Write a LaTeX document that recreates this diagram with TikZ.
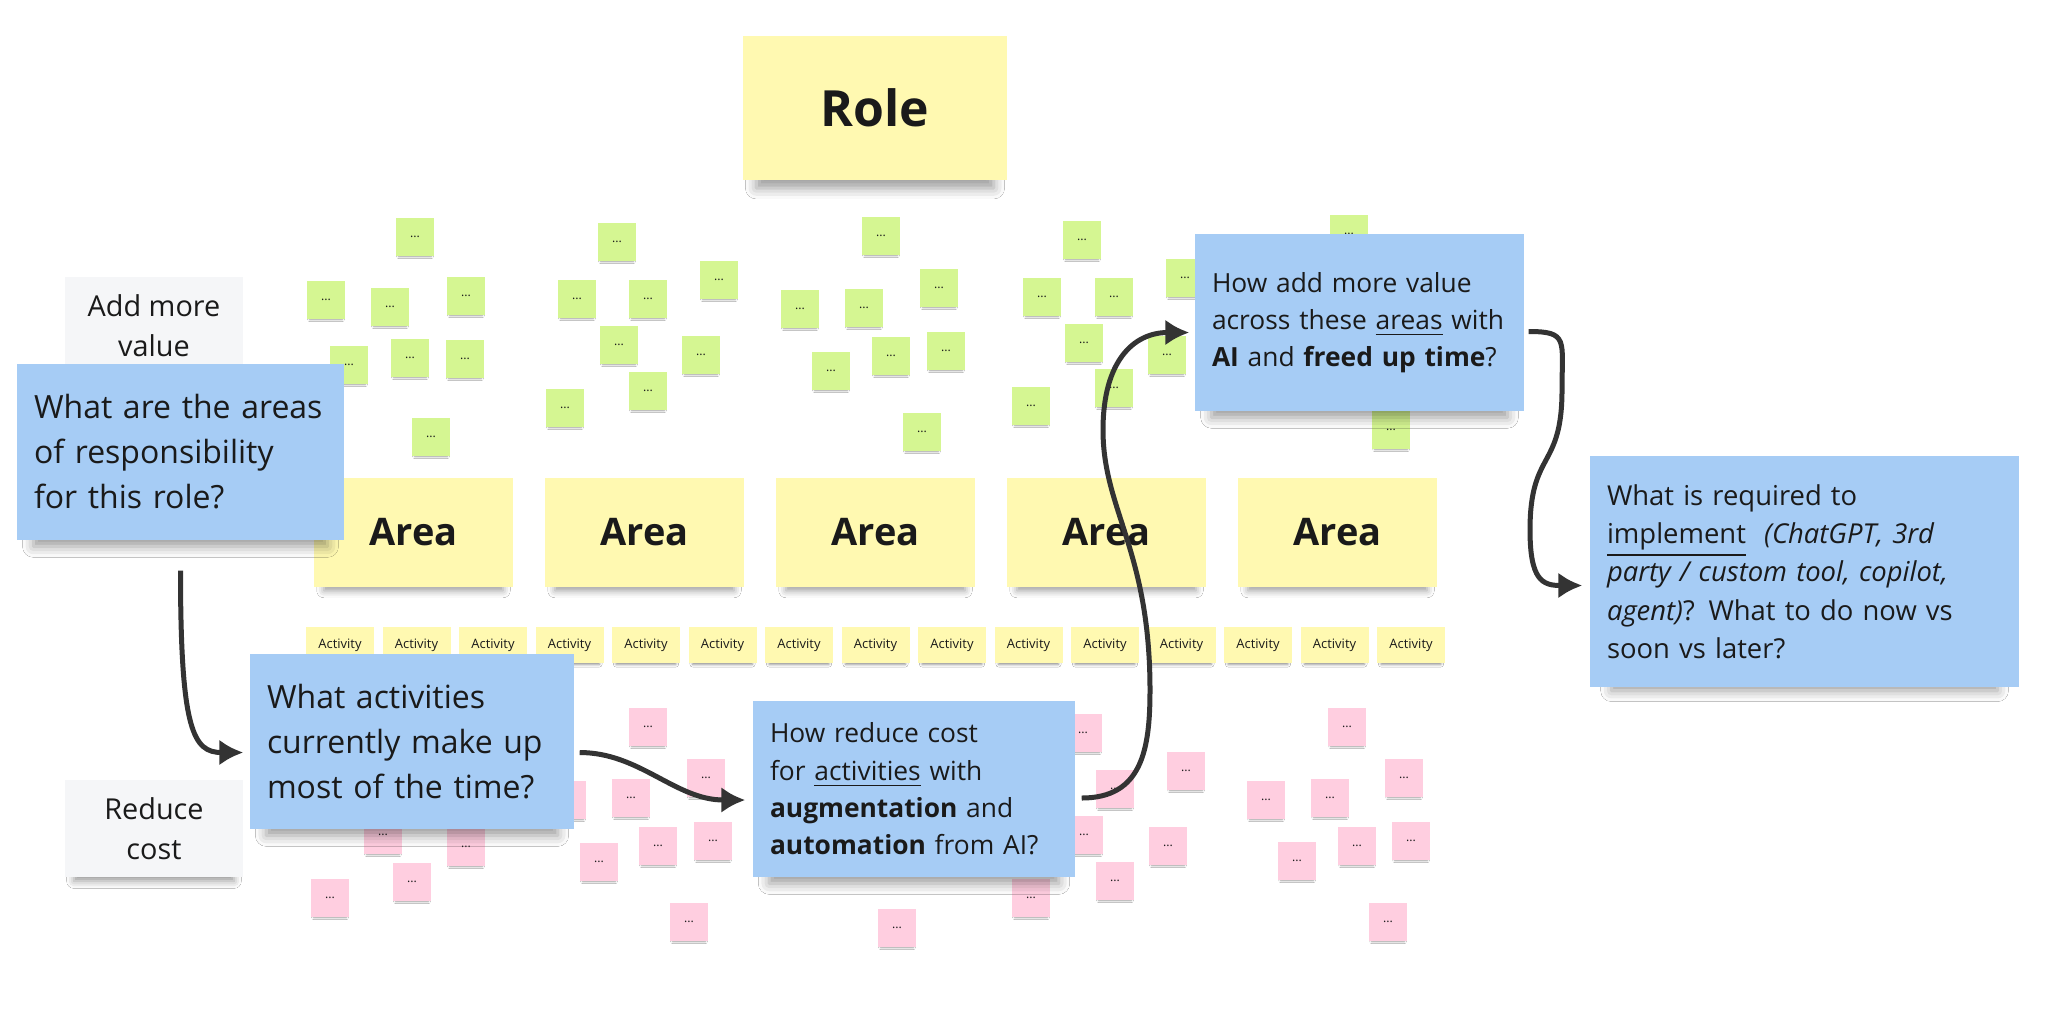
\documentclass[tikz,border=0pt]{standalone}
\usepackage{fontspec}
\setmainfont{Open Sans}
\usetikzlibrary{
    arrows.meta,
    shadows.blur
}
\definecolor{ink}{HTML}{1A1A1A}
\definecolor{notegreen}{HTML}{D5F692}
\definecolor{notepink}{HTML}{FFCEE0}
\definecolor{noteyellow}{HTML}{FFF9B1}
\definecolor{noteblue}{HTML}{A6CCF5}
\definecolor{notegrey}{HTML}{F5F6F8}
\definecolor{arrowgrey}{HTML}{333333}
\tikzset {
    sticky/.style = {rectangle, inner sep = 0pt, text = ink},
    small shadow/.style = {blur shadow = {shadow xshift = 0mm, shadow yshift = -0.4mm, shadow blur radius = 0.25mm, shadow opacity = 45, shadow scale = 0.85}},
    activity shadow/.style = {blur shadow = {shadow xshift = 0mm, shadow yshift = -0.4mm, shadow blur radius = 0.3mm, shadow opacity = 45, shadow scale = 0.88}},
    mid shadow/.style = {blur shadow = {shadow xshift = 0mm, shadow yshift = -1mm, shadow blur radius = 0.8mm, shadow opacity = 40, shadow scale = 0.9}},
    big shadow/.style = {blur shadow = {shadow xshift = 0mm, shadow yshift = -1.7mm, shadow blur radius = 1.2mm, shadow opacity = 40, shadow scale = 0.9}},
    %
    small note/.style = {sticky, small shadow, minimum width = 3.8mm, minimum height = 3.8mm, font = \fontsize{3.5}{4}\selectfont},
    green note/.style = {small note, fill = notegreen},
    pink note/.style = {small note, fill = notepink},
    role note/.style = {sticky, big shadow, fill = noteyellow, minimum width = 26.4mm, minimum height = 14.4mm, font = \fontsize{14.2}{16}\selectfont\bfseries},
    area note/.style = {sticky, mid shadow, fill = noteyellow, minimum width = 19.9mm, minimum height = 10.9mm, font = \fontsize{10.8}{13}\selectfont\bfseries},
    activity note/.style = {sticky, activity shadow, fill = noteyellow, minimum width = 6.8mm, minimum height = 3.6mm, font = \fontsize{3.7}{4.5}\selectfont},
    side note/.style = {sticky, mid shadow, fill = notegrey, align = center, minimum width = 17.8mm, minimum height = 9.7mm, font = \fontsize{8.2}{11.5}\selectfont},
    question/.style = {sticky, big shadow, fill = noteblue, align = left, inner xsep = 1.7mm},
    flow/.style = {draw = arrowgrey, line width = 0.5mm, -{Latex[length = 2.4mm, width = 2.6mm]}}
}

\begin{document}
\begin{tikzpicture}[x = 0.1mm, y = -0.1mm]
    \fill[white] (0, 0) rectangle (2048, 1014);
    \useasboundingbox (0, 0) rectangle (2048, 1014);
    % ideas above the areas
    \foreach \px/\py [count = \n] in {415/237, 326/300, 390/307, 466/296, 349/365, 410/358, 465/359, 431/437,
        617/242, 577/299, 648/299, 719/280, 619/345, 701/355, 648/391, 565/408,
        881/236, 800/309, 864/308, 939/288, 831/371, 891/356, 946/351, 922/432,
        1082/240, 1042/297, 1114/297, 1084/343, 1031/406, 1185/278, 1167/355, 1114/388,
        1349/234, 1391/430}
        \node[green note] (g\n) at (\px, \py) {...};
    % ideas below the activities
    \foreach \px/\py [count = \n] in {648/727, 706/778, 631/798, 567/800, 383/835, 466/847, 412/882, 330/898,
        599/862, 658/846, 713/841, 689/922, 1083/733, 1115/789, 1084/835, 1186/771,
        1168/846, 1115/881, 1031/898, 897/928, 1347/727, 1266/800, 1330/798, 1404/778,
        1297/861, 1357/846, 1411/841, 1388/922}
        \node[pink note] (p\n) at (\px, \py) {...};
    \node[role note] (role) at (875, 108) {Role};
    \foreach \n in {1, ..., 5}
        \node[area note] (area\n) at ({413.5 + 231*(\n - 1)}, 532.5) {Area};
    \foreach \n in {1, ..., 15}
        \node[activity note] (act\n) at ({340 + 76.5*(\n - 1)}, 645) {Activity};
    \node[side note] (value) at (154, 325.5) {Add more\\value};
    \node[side note] (cost) at (154, 828.5) {Reduce\\cost};
    % questions
    \node[question, text width = 29.3mm, minimum height = 17.6mm, font = \fontsize{9.1}{12.8}\selectfont] (qareas) at (180.5, 452) {What are the areas\\of responsibility\\for this role?};
    \node[question, text width = 29mm, minimum height = 17.5mm, font = \fontsize{9.1}{12.8}\selectfont] (qacts) at (412, 741.5) {What activities\\currently make up\\most of the time?};
    \node[question, text width = 28.8mm, minimum height = 17.6mm, font = \fontsize{7.5}{10.6}\selectfont] (qcost) at (914, 789) {How reduce cost\\for \underline{activities} with\\\textbf{augmentation} and\\\textbf{automation} from AI?};
    \node[question, text width = 29.5mm, minimum height = 17.7mm, font = \fontsize{7.5}{10.6}\selectfont] (qvalue) at (1359.5, 322.5) {How add more value\\across these \underline{areas} with\\\textbf{AI} and \textbf{freed up time}?};
    \node[question, text width = 39.5mm, minimum height = 23.1mm, font = \fontsize{7.8}{10.9}\selectfont] (qimpl) at (1804.5, 571.5) {What is required to\\\underline{implement}\ \ \textit{(ChatGPT, 3rd}\\\textit{party / custom tool, copilot,}\\\textit{agent)}? What to do now vs\\soon vs later?};
    % flow between questions
    \coordinate (rise) at (1150, 690);
    \coordinate (lean) at (1103, 430);
    \coordinate (swing) at (1562, 390);
    \coordinate (drop) at (1530, 530);
    \draw[flow] ([yshift = -3mm]qareas.south) .. controls +(0, 160) and +(-50, 0) .. ([xshift = -0.6mm, yshift = -1.1mm]qacts.west);
    \draw[flow] ([xshift = 0.5mm, yshift = -1.1mm]qacts.east) .. controls +(60, 0) and +(-70, 0) .. ([xshift = -0.7mm, yshift = -1.1mm]qcost.west);
    \draw[flow] ([xshift = 0.6mm, yshift = -0.9mm]qcost.east) .. controls +(60, 0) and +(0, 60) .. (rise)
        .. controls +(0, -140) and +(0, 80) .. (lean)
        .. controls +(0, -70) and +(-55, 0) .. ([xshift = -0.5mm, yshift = -1mm]qvalue.west);
    \draw[flow] ([xshift = 0.4mm, yshift = -0.9mm]qvalue.east) .. controls +(40, 0) and +(0, -50) .. (swing)
        .. controls +(0, 80) and +(0, -80) .. (drop)
        .. controls +(0, 50) and +(-40, 0) .. ([xshift = -0.7mm, yshift = -1.4mm]qimpl.west);
\end{tikzpicture}
\end{document}
